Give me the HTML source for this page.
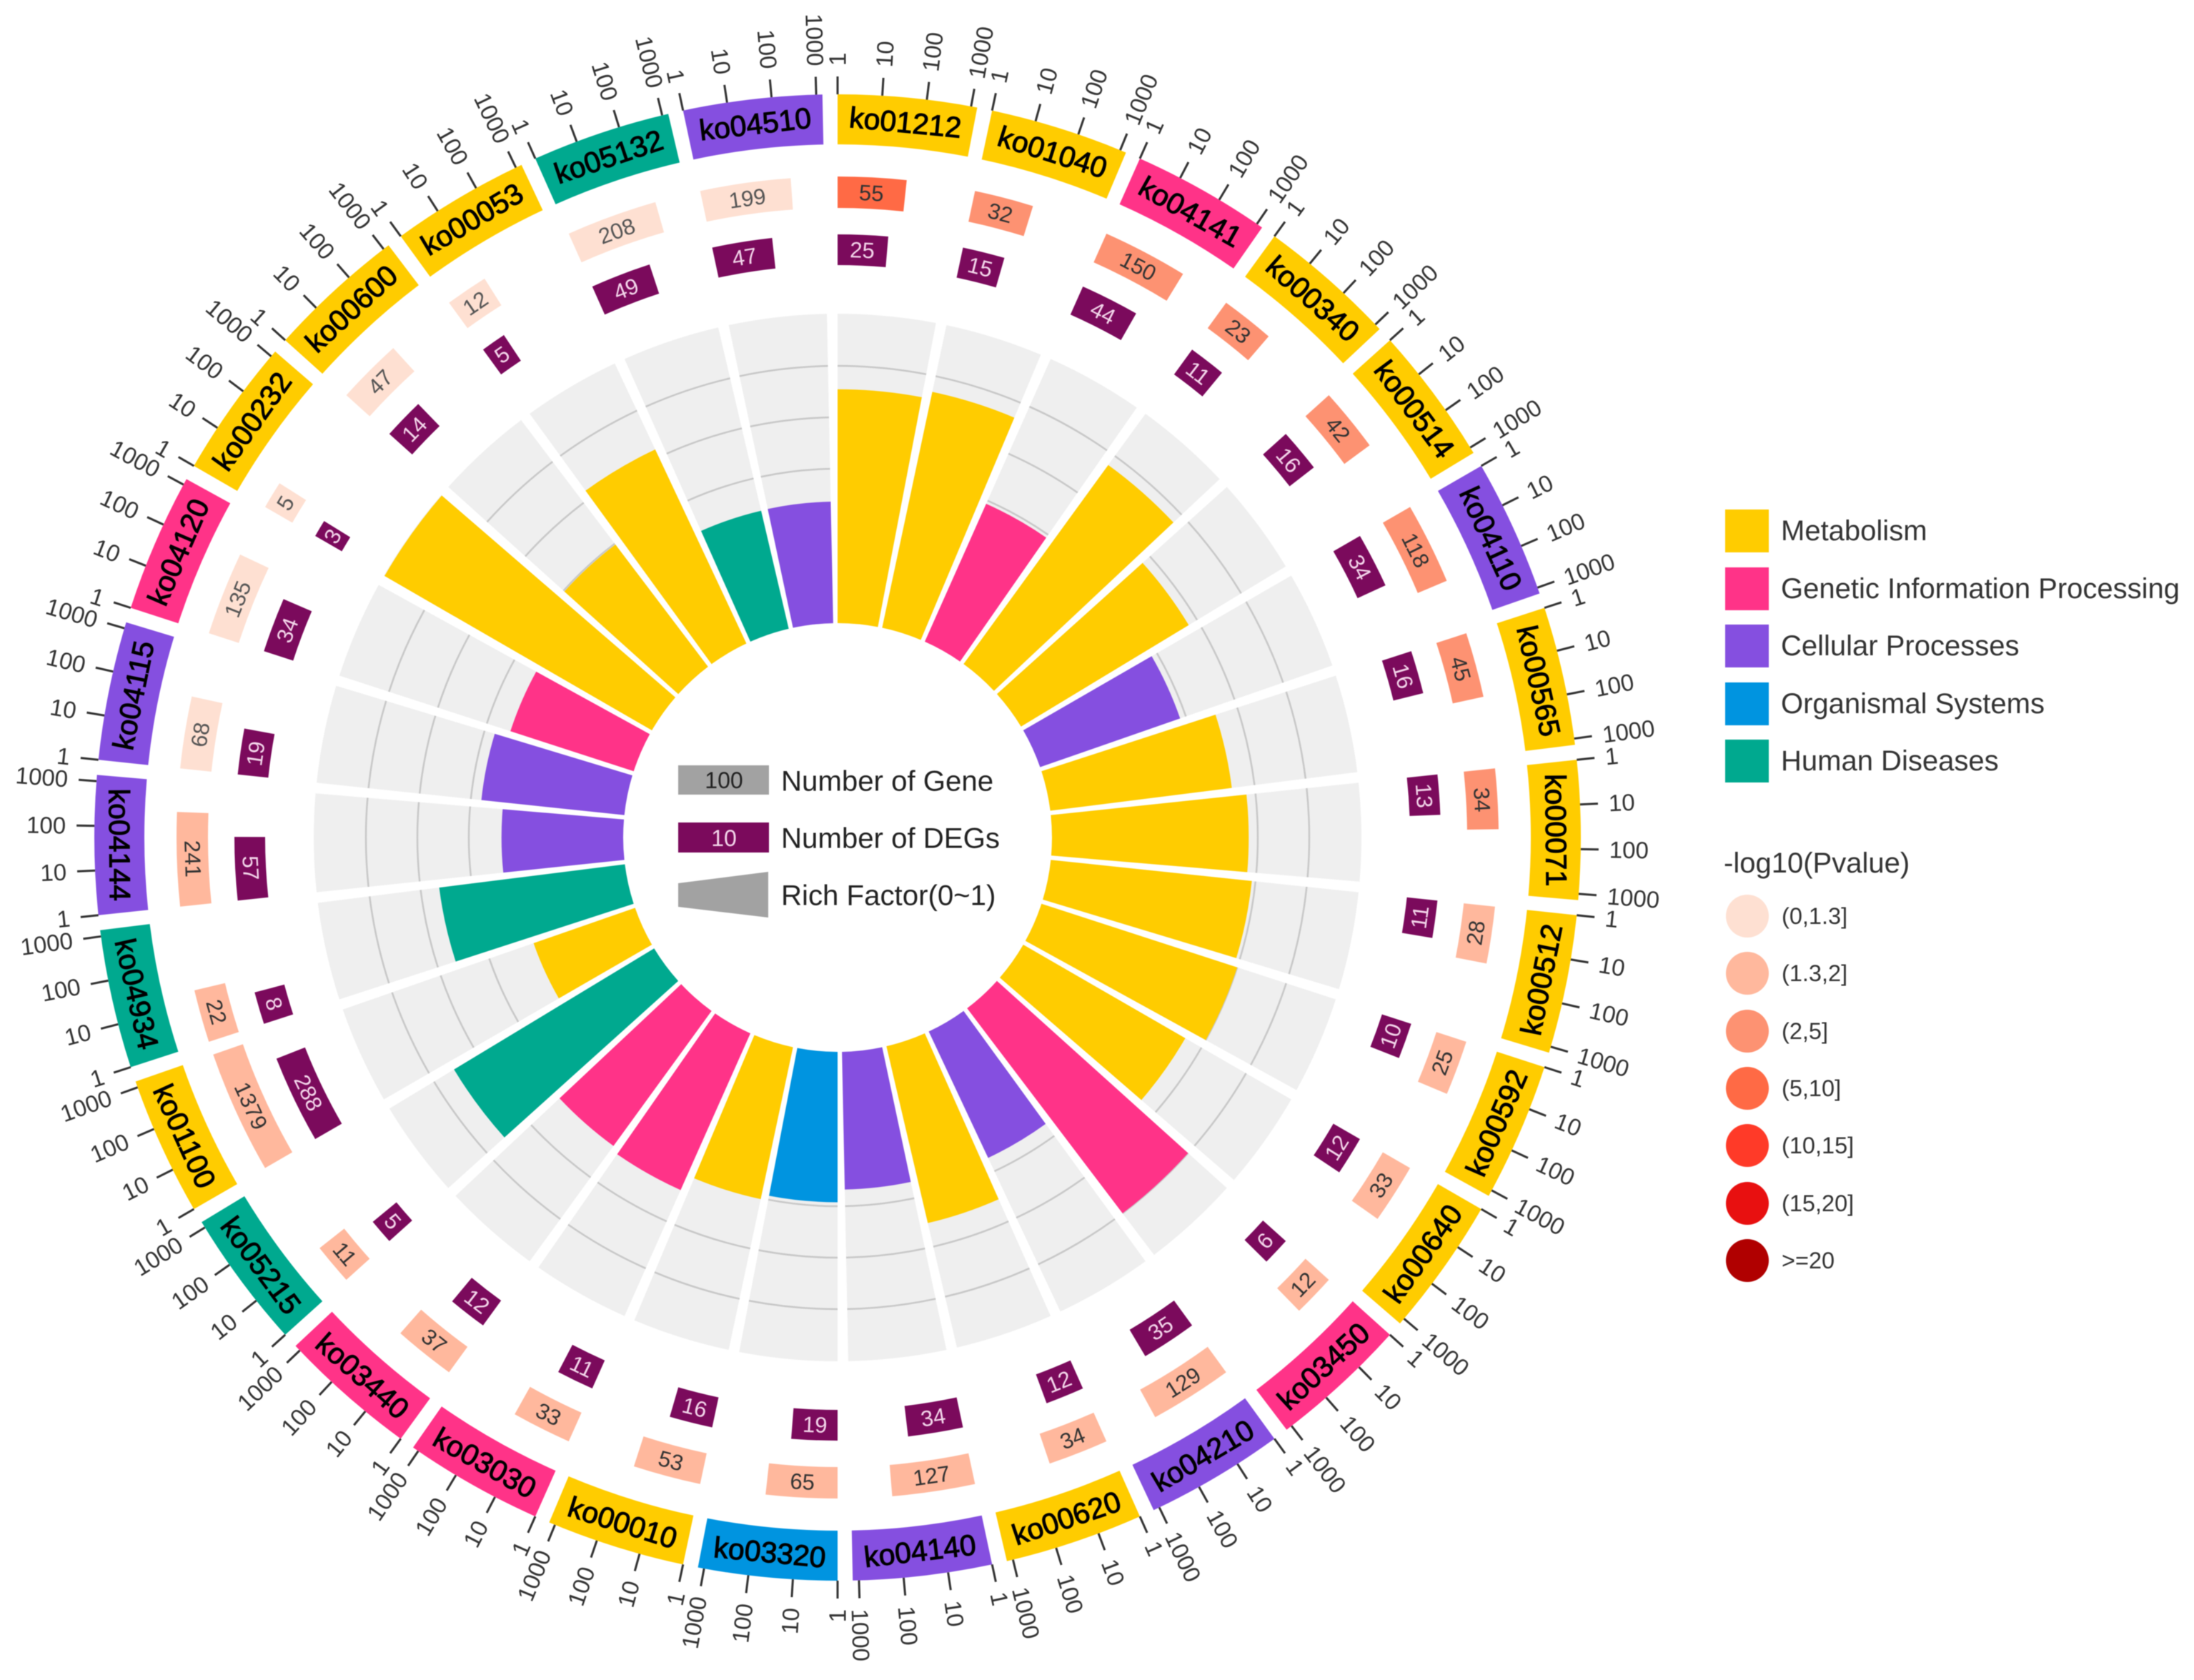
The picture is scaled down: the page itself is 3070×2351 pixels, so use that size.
<!DOCTYPE html>
<html lang="en">
<head>
<meta charset="utf-8">
<title>KEGG enrichment circos chart</title>
<style>
html,body{margin:0;padding:0;background:#fff;}
svg{display:block;font-family:"Liberation Sans",sans-serif;filter:blur(0.6px);}
</style>
</head>
<body>
<svg id="chart" xmlns="http://www.w3.org/2000/svg" width="3070" height="2351" viewBox="0 0 3070 2351">
  <rect x="0" y="0" width="3070" height="2351" fill="#ffffff"/>
  <g id="plot"></g>

  <g>
    <rect x="949" y="1071" width="127" height="41" fill="#a2a2a2"/>
    <text x="1013" y="1092" font-size="32" text-anchor="middle" dominant-baseline="central" fill="#222">100</text>
    <text x="1093" y="1093" font-size="40.2" dominant-baseline="central" fill="#222">Number of Gene</text>
    <rect x="949" y="1151" width="127" height="42" fill="#7b0a5c"/>
    <text x="1013" y="1173" font-size="32" text-anchor="middle" dominant-baseline="central" fill="#f3d5ea">10</text>
    <text x="1093" y="1173" font-size="40.2" dominant-baseline="central" fill="#222">Number of DEGs</text>
    <polygon points="949,1236 1075,1220 1075,1284 949,1269" fill="#a2a2a2"/>
    <text x="1093" y="1253" font-size="40.2" dominant-baseline="central" fill="#222">Rich Factor(0~1)</text>
  </g>

  <g font-size="40" fill="#333">
    <rect x="2414" y="713" width="61" height="60" fill="#ffcc00"/>
    <text x="2492" y="743" dominant-baseline="central">Metabolism</text>
    <rect x="2414" y="794" width="61" height="60" fill="#ff3388"/>
    <text x="2492" y="824" dominant-baseline="central">Genetic Information Processing</text>
    <rect x="2414" y="874" width="61" height="60" fill="#854fe0"/>
    <text x="2492" y="904" dominant-baseline="central">Cellular Processes</text>
    <rect x="2414" y="955" width="61" height="60" fill="#0094e0"/>
    <text x="2492" y="985" dominant-baseline="central">Organismal Systems</text>
    <rect x="2414" y="1035" width="61" height="60" fill="#00a98f"/>
    <text x="2492" y="1065" dominant-baseline="central">Human Diseases</text>
  </g>

  <g fill="#333">
    <text x="2412" y="1208" font-size="40" dominant-baseline="central">-log10(Pvalue)</text>
    <circle cx="2445" cy="1282" r="30" fill="#fee0d2"/>
    <text x="2493" y="1282" font-size="32.5" dominant-baseline="central">(0,1.3]</text>
    <circle cx="2445" cy="1362" r="30" fill="#ffb89d"/>
    <text x="2493" y="1362" font-size="32.5" dominant-baseline="central">(1.3,2]</text>
    <circle cx="2445" cy="1443" r="30" fill="#fd9272"/>
    <text x="2493" y="1443" font-size="32.5" dominant-baseline="central">(2,5]</text>
    <circle cx="2445" cy="1523" r="30" fill="#ff6a45"/>
    <text x="2493" y="1523" font-size="32.5" dominant-baseline="central">(5,10]</text>
    <circle cx="2445" cy="1603" r="30" fill="#ff3a28"/>
    <text x="2493" y="1603" font-size="32.5" dominant-baseline="central">(10,15]</text>
    <circle cx="2445" cy="1684" r="30" fill="#e81010"/>
    <text x="2493" y="1684" font-size="32.5" dominant-baseline="central">(15,20]</text>
    <circle cx="2445" cy="1764" r="30" fill="#b00000"/>
    <text x="2493" y="1764" font-size="32.5" dominant-baseline="central">&gt;=20</text>
  </g>
</svg>
<script>
const categories = ["ko01212","ko01040","ko04141","ko00340","ko00514","ko04110","ko00565","ko00071","ko00512","ko00592","ko00640","ko03450","ko04210","ko00620","ko04140","ko03320","ko00010","ko03030","ko03440","ko05215","ko01100","ko04934","ko04144","ko04115","ko04120","ko00232","ko00600","ko00053","ko05132","ko04510"];
const geneCounts = [55,32,150,23,42,118,45,34,28,25,33,12,129,34,127,65,53,33,37,11,1379,22,241,68,135,5,47,12,208,199];
const degCounts = [25,15,44,11,16,34,16,13,11,10,12,6,35,12,34,19,16,11,12,5,288,8,57,19,34,3,14,5,49,47];
const pathwayClasses = ["M","M","G","M","M","C","M","M","M","M","M","G","C","M","C","O","M","G","G","H","M","H","C","C","G","M","M","M","H","C"];
const pvalueBins = [3,2,2,2,2,2,2,2,1,1,1,1,1,1,1,1,1,1,1,1,1,1,1,0,0,0,0,0,0,0];
const axisTickValues = [1,10,100,1000];
const richGridValues = [0.3,0.4,0.5];
const richMax = 0.6;
</script>
<script>
const classColors = {M:"#ffcc00",G:"#ff3388",C:"#854fe0",O:"#0094e0",H:"#00a98f"};
const binColors = ["#fee0d2","#ffb89d","#fd9272","#ff6a45","#ff3a28","#e81010","#b00000"];
const SVGNS = "http://www.w3.org/2000/svg";
const plot = document.getElementById("plot");
const CX = 1172, CY = 1172;
const STEP = 360 / categories.length, SPAN = STEP - 1.17, AXIS_SPAN = 10.35;

function angleOf(i){ return i * STEP; }
function countSpan(v){ return Math.log10(v) / Math.log10(1000) * AXIS_SPAN; }
function richRadius(rf){ return 300 + rf * 720; }
function pt(r, a){ const t = a * Math.PI / 180; return [CX + r * Math.sin(t), CY - r * Math.cos(t)]; }
function arcPath(r0, r1, a0, a1){
  const p1 = pt(r1, a0), p2 = pt(r1, a1), p3 = pt(r0, a1), p4 = pt(r0, a0);
  return "M" + p1[0] + " " + p1[1] + "A" + r1 + " " + r1 + " 0 0 1 " + p2[0] + " " + p2[1] +
         "L" + p3[0] + " " + p3[1] + "A" + r0 + " " + r0 + " 0 0 0 " + p4[0] + " " + p4[1] + "Z";
}
function arcLine(r, a0, a1){
  const p1 = pt(r, a0), p2 = pt(r, a1);
  return "M" + p1[0] + " " + p1[1] + "A" + r + " " + r + " 0 0 1 " + p2[0] + " " + p2[1];
}
function tangentRotation(a){ const m = ((a % 360) + 360) % 360; return (m > 90 && m < 270) ? m - 180 : m; }
function placeTangentText(el, r, a, size, fill){
  const p = pt(r, a);
  el.setAttribute("x", p[0]);
  el.setAttribute("y", p[1]);
  el.setAttribute("font-size", size);
  el.setAttribute("fill", fill);
  el.setAttribute("text-anchor", "middle");
  el.setAttribute("dominant-baseline", "central");
  el.setAttribute("transform", "rotate(" + tangentRotation(a) + " " + p[0] + " " + p[1] + ")");
}

categories.forEach(function(name, i){
  const a0 = angleOf(i), a1 = a0 + SPAN;

  const bg = document.createElementNS(SVGNS, "path");
  
  
  bg.setAttribute("d", arcPath(300, richRadius(richMax) + 1, a0, a1));
  bg.setAttribute("fill", "#efefef");
  plot.appendChild(bg);

  richGridValues.forEach(function(g){
    const line = document.createElementNS(SVGNS, "path");
    
    
    line.setAttribute("d", arcLine(richRadius(g), a0, a1));
    line.setAttribute("fill", "none");
    line.setAttribute("stroke", "#c8c8c8");
    line.setAttribute("stroke-width", "2.5");
    plot.appendChild(line);
  });

  const bar = document.createElementNS(SVGNS, "path");
  
  
  bar.setAttribute("d", arcPath(300, richRadius(degCounts[i] / geneCounts[i]), a0, a1));
  bar.setAttribute("fill", classColors[pathwayClasses[i]]);
  plot.appendChild(bar);

  const band = document.createElementNS(SVGNS, "path");
  
  
  band.setAttribute("d", arcPath(970, 1040, a0, a1));
  band.setAttribute("fill", classColors[pathwayClasses[i]]);
  plot.appendChild(band);

  const bandText = document.createElementNS(SVGNS, "text");
  
  
  placeTangentText(bandText, 1005, (a0 + a1) / 2, 41, "#000");
  bandText.setAttribute("stroke", "#000");
  bandText.setAttribute("stroke-width", "1");
  bandText.textContent = name;
  plot.appendChild(bandText);

  axisTickValues.forEach(function(t){
    const a = a0 + countSpan(t);
    const p1 = pt(1040, a), p2 = pt(1065, a), p3 = pt(1080, a);
    const tick = document.createElementNS(SVGNS, "line");
    
    
    tick.setAttribute("x1", p1[0]);
    tick.setAttribute("y1", p1[1]);
    tick.setAttribute("x2", p2[0]);
    tick.setAttribute("y2", p2[1]);
    tick.setAttribute("stroke", "#333");
    tick.setAttribute("stroke-width", "3");
    plot.appendChild(tick);

    const label = document.createElementNS(SVGNS, "text");
    
    
    const rightSide = a < 180;
    label.setAttribute("x", p3[0]);
    label.setAttribute("y", p3[1]);
    label.setAttribute("font-size", "33");
    label.setAttribute("fill", "#333");
    label.setAttribute("dominant-baseline", "central");
    label.setAttribute("text-anchor", rightSide ? "start" : "end");
    label.setAttribute("transform", "rotate(" + (rightSide ? a - 90 : a + 90) + " " + p3[0] + " " + p3[1] + ")");
    label.textContent = String(t);
    plot.appendChild(label);
  });

  const geneEnd = a0 + countSpan(geneCounts[i]);
  const geneBar = document.createElementNS(SVGNS, "path");
  
  
  geneBar.setAttribute("d", arcPath(881, 925, a0, geneEnd));
  geneBar.setAttribute("fill", binColors[pvalueBins[i]]);
  plot.appendChild(geneBar);

  const geneText = document.createElementNS(SVGNS, "text");
  
  
  placeTangentText(geneText, 903, (a0 + geneEnd) / 2, 31, pvalueBins[i] === 0 ? "#555" : "#333");
  geneText.textContent = String(geneCounts[i]);
  plot.appendChild(geneText);

  const degEnd = a0 + countSpan(degCounts[i]);
  const degBar = document.createElementNS(SVGNS, "path");
  
  
  degBar.setAttribute("d", arcPath(801, 844, a0, degEnd));
  degBar.setAttribute("fill", "#7b0a5c");
  plot.appendChild(degBar);

  const degText = document.createElementNS(SVGNS, "text");
  
  
  placeTangentText(degText, 822.5, (a0 + degEnd) / 2, 31, "#f3d5ea");
  degText.textContent = String(degCounts[i]);
  plot.appendChild(degText);
});
</script>
</body>
</html>
